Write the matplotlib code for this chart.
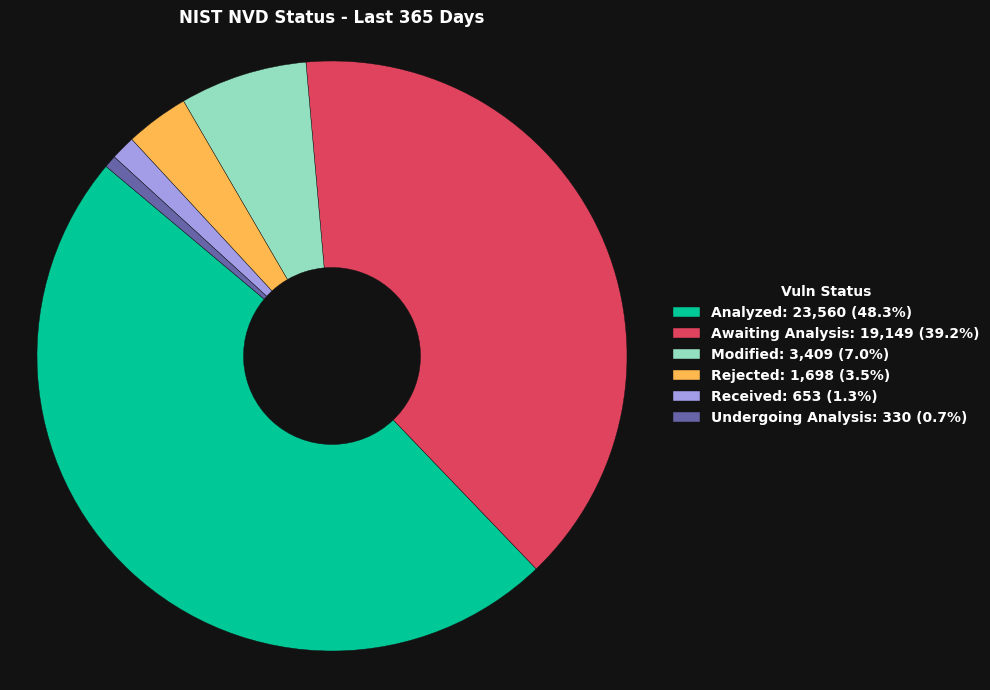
import matplotlib

matplotlib.use("Agg")
import matplotlib.pyplot as plt

statuses = ["Analyzed", "Awaiting Analysis", "Modified", "Rejected", "Received", "Undergoing Analysis"]
counts = [23560, 19149, 3409, 1698, 653, 330]
colors = ["#00c896", "#e0435e", "#93e0c1", "#ffb84d", "#a29de6", "#6764a8"]

bg = "#121212"
total = sum(counts)
labels = [f"{s}: {c:,} ({c / total * 100:.1f}%)" for s, c in zip(statuses, counts)]

fig = plt.figure(figsize=(9.9, 6.9), dpi=100, facecolor=bg)
r = 295
cx, cy = 332, 356
ax = fig.add_axes([(cx - r) / 990, (690 - cy - r) / 690, 2 * r / 990, 2 * r / 690])
ax.set_facecolor(bg)
wedges, _ = ax.pie(counts, colors=colors, startangle=140, radius=1,
                   wedgeprops=dict(width=0.7, edgecolor=bg, linewidth=0.3))
ax.set_xlim(-1, 1)
ax.set_ylim(-1, 1)
ax.set_aspect("equal")

fig.text(cx / 990, 1 - 18 / 690, "NIST NVD Status - Last 365 Days", color="white",
         fontsize=12, fontweight="bold", ha="center", va="center")

leg = fig.legend(wedges, labels, title="Vuln Status", loc="center left",
                 bbox_to_anchor=(660 / 990, 1 - 355 / 690), frameon=False,
                 labelcolor="white", prop=dict(weight="bold", size=10),
                 handlelength=2.0, handleheight=0.7)
leg.get_title().set_color("white")
leg.get_title().set_fontweight("bold")
leg.get_title().set_fontsize(10)

fig.savefig("out.png", dpi=100, facecolor=bg)
